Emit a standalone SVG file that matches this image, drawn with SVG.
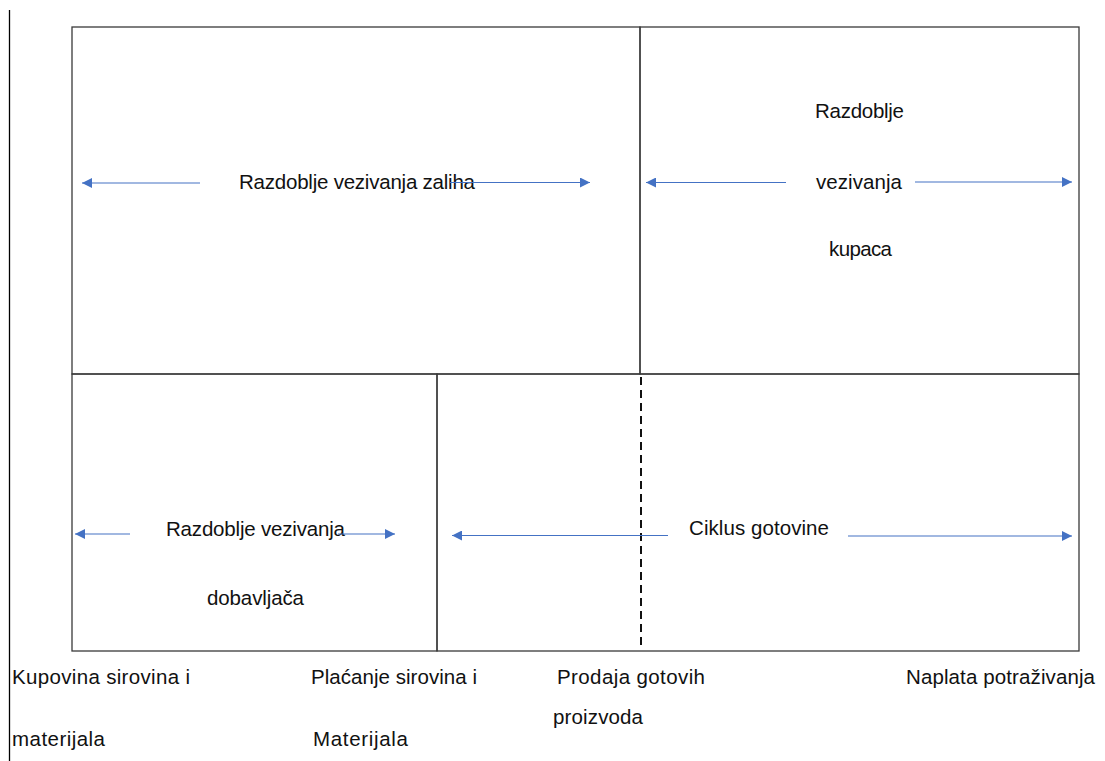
<svg xmlns="http://www.w3.org/2000/svg" width="1105" height="761" viewBox="0 0 1105 761">
<style>
.cell{fill:none;stroke:#3a3a3a;stroke-width:1.3}
.lbl{font-family:"Liberation Sans",Arial,sans-serif;font-size:20.5px;fill:#111}
.arr{stroke:#4472C4;stroke-width:1.2;fill:none;marker-end:url(#ah)}
.dash{stroke:#111;stroke-width:2;stroke-dasharray:8 5;fill:none}
</style>
<defs>
<marker id="ah" viewBox="0 0 10 10" refX="10" refY="5" markerWidth="11" markerHeight="10" markerUnits="userSpaceOnUse" orient="auto">
<path d="M0,0 L10,5 L0,10 Z" fill="#4472C4"/>
</marker>
</defs>
<rect width="1105" height="761" fill="#fff"/>
<line x1="9.5" y1="10" x2="9.5" y2="761" stroke="#000" stroke-width="1.3"/>
<g id="cell-zalihe">
<rect class="cell" x="72" y="27" width="568" height="347"/>
<text class="lbl" x="239" y="189" textLength="236" lengthAdjust="spacing">Razdoblje vezivanja zaliha</text>
</g>
<g id="cell-kupci">
<rect class="cell" x="640" y="27" width="439" height="347"/>
<text class="lbl" x="815" y="118" textLength="89" lengthAdjust="spacing">Razdoblje</text>
<text class="lbl" x="816" y="189" textLength="86" lengthAdjust="spacing">vezivanja</text>
<text class="lbl" x="829" y="256" textLength="63" lengthAdjust="spacing">kupaca</text>
</g>
<g id="cell-dobavljaci">
<rect class="cell" x="72" y="374" width="365" height="277"/>
<text class="lbl" x="166" y="536" textLength="179" lengthAdjust="spacing">Razdoblje vezivanja</text>
<text class="lbl" x="207" y="605" textLength="97" lengthAdjust="spacing">dobavljača</text>
</g>
<g id="cell-ciklus">
<rect class="cell" x="437" y="374" width="642" height="277"/>
<line class="dash" x1="641" y1="377" x2="641" y2="645"/>
<text class="lbl" x="689" y="535" textLength="140" lengthAdjust="spacing">Ciklus gotovine</text>
</g>
<g id="label-kupovina">
<text class="lbl" x="12" y="684" textLength="178" lengthAdjust="spacing">Kupovina sirovina i</text>
<text class="lbl" x="12" y="746" textLength="93" lengthAdjust="spacing">materijala</text>
</g>
<g id="label-placanje">
<text class="lbl" x="311" y="684" textLength="166" lengthAdjust="spacing">Plaćanje sirovina i</text>
<text class="lbl" x="313" y="746" textLength="95" lengthAdjust="spacing">Materijala</text>
</g>
<g id="label-prodaja">
<text class="lbl" x="557" y="684" textLength="148" lengthAdjust="spacing">Prodaja gotovih</text>
<text class="lbl" x="553" y="724" textLength="90" lengthAdjust="spacing">proizvoda</text>
</g>
<g id="label-naplata">
<text class="lbl" x="906" y="684" textLength="189" lengthAdjust="spacing">Naplata potraživanja</text>
</g>
<g id="connectors">
<line class="arr" x1="200" y1="183" x2="82" y2="183"/>
<line class="arr" x1="450" y1="182.5" x2="590" y2="182.5"/>
<line class="arr" x1="786" y1="182.5" x2="646" y2="182.5"/>
<line class="arr" x1="915" y1="182" x2="1072" y2="182"/>
<line class="arr" x1="130" y1="534" x2="75" y2="534"/>
<line class="arr" x1="338" y1="534" x2="395" y2="534"/>
<line class="arr" x1="668" y1="535.5" x2="452" y2="535.5"/>
<line class="arr" x1="848" y1="536" x2="1072" y2="536"/>
</g>
</svg>
